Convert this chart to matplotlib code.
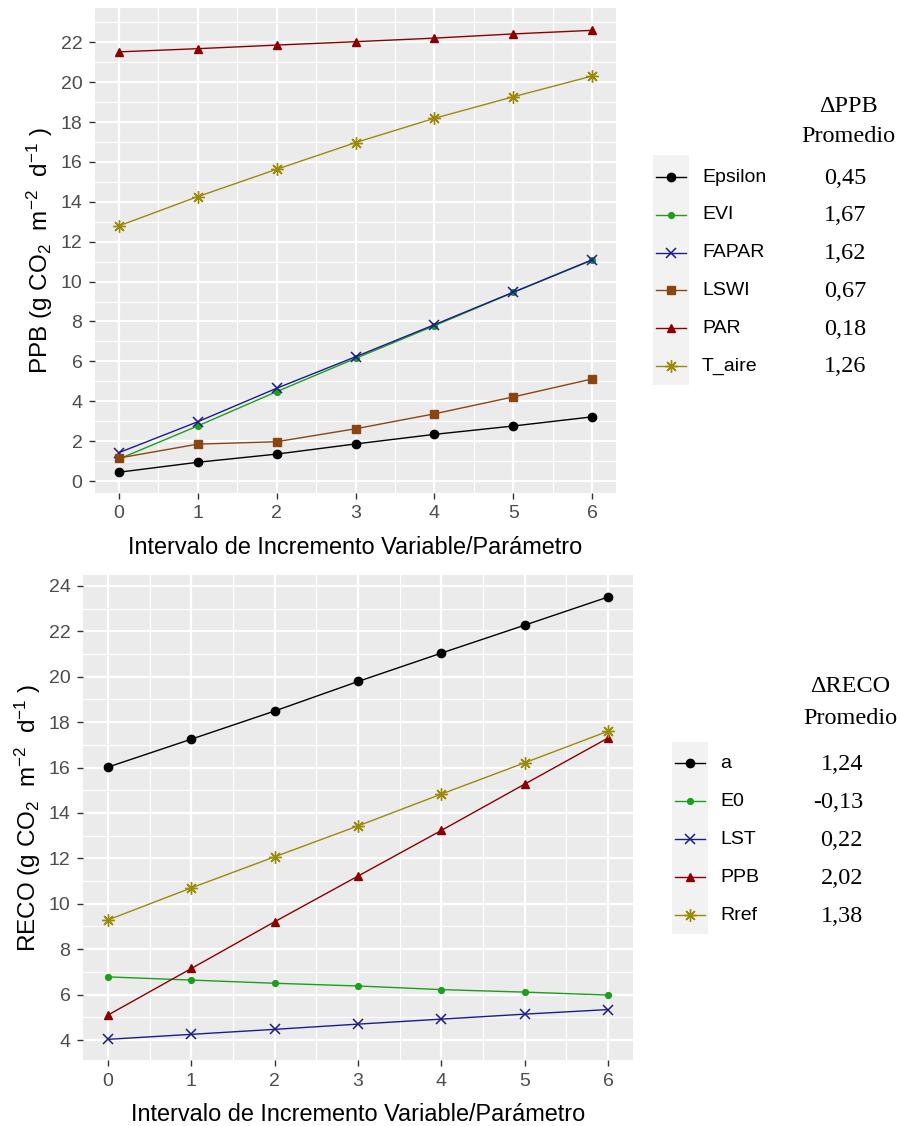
import matplotlib
matplotlib.use("Agg")
import matplotlib.pyplot as plt
from matplotlib.patches import Rectangle
import numpy as np

# ---------------- data ----------------
x_steps = [0, 1, 2, 3, 4, 5, 6]

ppb_names = ["Epsilon", "EVI", "FAPAR", "LSWI", "PAR", "T_aire"]
ppb_epsilon = [0.44, 0.94, 1.35, 1.86, 2.34, 2.76, 3.22]
ppb_evi = [1.10, 2.76, 4.48, 6.15, 7.79, 9.46, 11.08]
ppb_fapar = [1.42, 2.97, 4.65, 6.23, 7.84, 9.47, 11.10]
ppb_lswi = [1.15, 1.85, 1.97, 2.62, 3.37, 4.22, 5.12]
ppb_par = [21.52, 21.68, 21.86, 22.03, 22.21, 22.42, 22.60]
ppb_taire = [12.79, 14.26, 15.63, 16.97, 18.19, 19.27, 20.31]
ppb_delta = ["0,45", "1,67", "1,62", "0,67", "0,18", "1,26"]

reco_names = ["a", "E0", "LST", "PPB", "Rref"]
reco_a = [16.02, 17.25, 18.49, 19.79, 21.04, 22.27, 23.51]
reco_e0 = [6.78, 6.64, 6.50, 6.38, 6.22, 6.11, 5.98]
reco_lst = [4.03, 4.25, 4.47, 4.70, 4.92, 5.14, 5.34]
reco_ppb = [5.10, 7.15, 9.21, 11.22, 13.23, 15.27, 17.30]
reco_rref = [9.29, 10.70, 12.07, 13.43, 14.83, 16.21, 17.60]
reco_delta = ["1,24", "-0,13", "0,22", "2,02", "1,38"]

# ---------------- styles ----------------
BLACK = "#000000"
GREEN = "#1E9E1E"
BLUE = "#1C1C8C"
BROWN = "#8B4513"
RED = "#8B0000"
GOLD = "#9C8A0A"
STAR = (8, 2, 0)

ppb_series = [ppb_epsilon, ppb_evi, ppb_fapar, ppb_lswi, ppb_par, ppb_taire]
ppb_styles = [
    dict(color=BLACK, marker="o", ms=6),
    dict(color=GREEN, marker="o", ms=4.2),
    dict(color=BLUE, marker="x", ms=6.5, mew=1.1),
    dict(color=BROWN, marker="s", ms=5.8),
    dict(color=RED, marker="^", ms=6),
    dict(color=GOLD, marker=STAR, ms=9, mew=1.0),
]
reco_series = [reco_a, reco_e0, reco_lst, reco_ppb, reco_rref]
reco_styles = [
    dict(color=BLACK, marker="o", ms=6),
    dict(color=GREEN, marker="o", ms=4.2),
    dict(color=BLUE, marker="x", ms=6.5, mew=1.1),
    dict(color=RED, marker="^", ms=6),
    dict(color=GOLD, marker=STAR, ms=9, mew=1.0),
]

plt.rcParams["font.family"] = ["Liberation Sans", "DejaVu Sans"]
plt.rcParams["mathtext.fontset"] = "custom"
plt.rcParams["mathtext.rm"] = "Liberation Sans"
plt.rcParams["mathtext.it"] = "Liberation Sans:italic"
plt.rcParams["mathtext.bf"] = "Liberation Sans:bold"

W, H = 901, 1126
fig = plt.figure(figsize=(W / 100, H / 100), dpi=100)


def ax_rect(l, t, r, b):
    return [l / W, 1 - b / H, (r - l) / W, (b - t) / H]


def style_axes(ax, yticks, ylim):
    ax.set_facecolor("#EBEBEB")
    ax.set_xticks(x_steps)
    ax.set_xticks(np.arange(-0.5, 6.6, 1.0), minor=True)
    ax.set_yticks(yticks)
    ax.set_yticks(np.arange(yticks[0] - 1, yticks[-1] + 2, 2), minor=True)
    ax.set_xlim(-0.3, 6.3)
    ax.set_ylim(*ylim)
    ax.grid(which="major", color="white", lw=1.6, zorder=0)
    ax.grid(which="minor", color="white", lw=0.8, zorder=0)
    ax.set_axisbelow(True)
    for s in ax.spines.values():
        s.set_visible(False)
    ax.tick_params(which="major", length=4, width=1.0, color="#333333",
                   labelsize=14, labelcolor="#4D4D4D", pad=5)
    ax.tick_params(which="minor", length=0)
    ax.set_xlabel("Intervalo de Incremento Variable/Parámetro", fontsize=16.9,
                  color="black", labelpad=10)


ax1 = fig.add_axes(ax_rect(95, 8, 616, 493))
for ys, st in zip(ppb_series, ppb_styles):
    ax1.plot(x_steps, ys, lw=1.0, zorder=3, **st)
style_axes(ax1, list(range(0, 23, 2)), (-0.6, 23.72))
ax1.set_ylabel(r"PPB (g CO$_2$  m$^{-2}$  d$^{-1}$ )", fontsize=17.5, labelpad=4)

ax2 = fig.add_axes(ax_rect(83, 575, 633, 1060))
for ys, st in zip(reco_series, reco_styles):
    ax2.plot(x_steps, ys, lw=1.0, zorder=3, **st)
style_axes(ax2, list(range(4, 25, 2)), (3.12, 24.48))
ax2.set_ylabel(r"RECO (g CO$_2$  m$^{-2}$  d$^{-1}$ )", fontsize=17.5, labelpad=4)

# ---------------- legends (pixel coordinates overlay) ----------------
lax = fig.add_axes([0, 0, 1, 1], facecolor="none")
lax.set_xlim(0, W)
lax.set_ylim(H, 0)
lax.axis("off")

SERIF = ["Liberation Serif", "DejaVu Serif"]


def draw_legend(names, styles, deltas, key_l, key_t, row0, step, label_x,
                val_x, val_ha, head_title, head_y1, head_y2, head_x):
    n = len(names)
    key_w = 36
    bottom = row0 + step * (n - 1) + step / 2
    lax.add_patch(Rectangle((key_l, key_t), key_w, bottom - key_t,
                            facecolor="#F2F2F2", edgecolor="none"))
    for i, (nm, st, dv) in enumerate(zip(names, styles, deltas)):
        y = row0 + i * step
        lax.plot([key_l + 3, key_l + key_w - 3], [y, y], lw=1.0, color=st["color"])
        lax.plot([key_l + key_w / 2], [y], lw=0, **st)
        lax.text(label_x, y, nm, fontsize=14, va="center", ha="left", color="black")
        lax.text(val_x, y + 1, dv, fontsize=17.5, va="center", ha=val_ha,
                 family=SERIF, color="black")
    lax.text(head_x, head_y1, head_title, fontsize=17.5, va="center", ha="center",
             family=SERIF)
    lax.text(head_x, head_y2, "Promedio", fontsize=17.5, va="center", ha="center",
             family=SERIF)


draw_legend(ppb_names, ppb_styles, ppb_delta, key_l=653, key_t=155, row0=177,
            step=37.8, label_x=702, val_x=845, val_ha="center",
            head_title="ΔPPB", head_y1=107, head_y2=137, head_x=848)
draw_legend(reco_names, reco_styles, reco_delta, key_l=672, key_t=742, row0=763,
            step=38, label_x=720, val_x=863, val_ha="right",
            head_title="ΔRECO", head_y1=687, head_y2=719, head_x=850)

fig.savefig("out.png", dpi=100, facecolor="white")
